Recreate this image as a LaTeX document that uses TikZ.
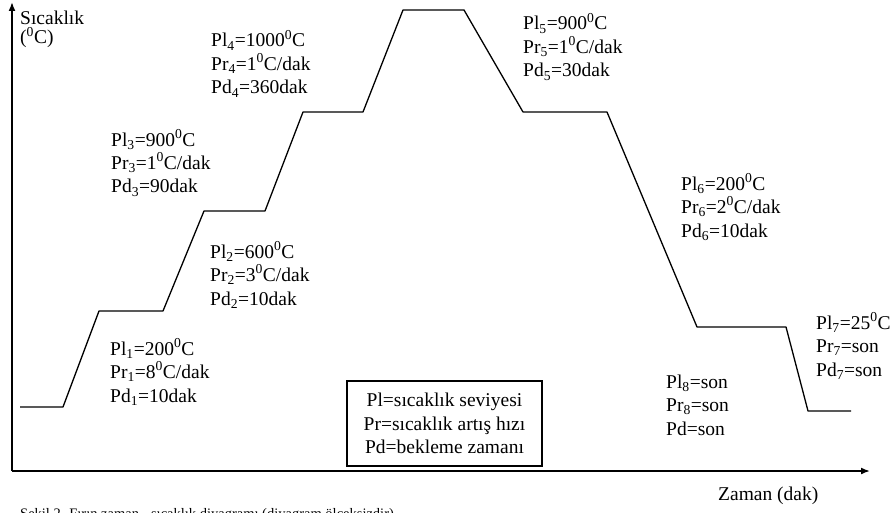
\documentclass[tikz,border=0pt]{standalone}
\usepackage{fontspec}
\setmainfont{Liberation Serif}
\usetikzlibrary{arrows.meta}
\begin{document}
\begin{tikzpicture}[x=1pt,y=-1pt,
  lbl/.style={anchor=base west,inner sep=0pt,align=left,font=\fontsize{19.5}{23.5}\selectfont},
  curveline/.style={line width=1.3pt,line join=round},
  axisline/.style={line width=1.7pt,-{Latex[length=9pt,width=7pt]}},
  legend/.style={draw,line width=1.3pt,minimum width=195pt,minimum height=85pt,align=center,inner sep=0pt,font=\fontsize{19.5}{23.5}\selectfont}]
\useasboundingbox (0,0) rectangle (893,513);
% axes
\coordinate (O) at (12,471);
\coordinate (ytop) at (12,2);
\coordinate (xend) at (870,471);
\draw[axisline] (O) -- (ytop);
\draw[axisline] (O) -- (xend);
% curve
\coordinate (c0) at (20,407);
\coordinate (c1) at (63,407);
\coordinate (c2) at (99,311);
\coordinate (c3) at (163,311);
\coordinate (c4) at (204,211);
\coordinate (c5) at (265,211);
\coordinate (c6) at (303,112);
\coordinate (c7) at (363,112);
\coordinate (c8) at (403,10);
\coordinate (c9) at (464,10);
\coordinate (c10) at (523,112);
\coordinate (c11) at (607,112);
\coordinate (c12) at (697,327);
\coordinate (c13) at (786,327);
\coordinate (c14) at (808,411);
\coordinate (c15) at (851,411);
\draw[curveline] (c0) -- (c1) -- (c2) -- (c3) -- (c4) -- (c5) -- (c6) -- (c7) -- (c8) -- (c9) -- (c10) -- (c11) -- (c12) -- (c13) -- (c14) -- (c15);
% axis labels
\node[lbl,font=\fontsize{19.5}{19.5}\selectfont] (ylab) at (20,44) {Sıcaklık\\(\textsuperscript{0}C)};
\node[lbl] (xlab) at (718,500) {Zaman (dak)};
% level labels (anchored at the baseline of their last line)
\node[lbl] (t1) at (110,402) {Pl\textsubscript{1}=200\textsuperscript{0}C\\Pr\textsubscript{1}=8\textsuperscript{0}C/dak\\Pd\textsubscript{1}=10dak};
\node[lbl] (t2) at (210,305) {Pl\textsubscript{2}=600\textsuperscript{0}C\\Pr\textsubscript{2}=3\textsuperscript{0}C/dak\\Pd\textsubscript{2}=10dak};
\node[lbl] (t3) at (111,193) {Pl\textsubscript{3}=900\textsuperscript{0}C\\Pr\textsubscript{3}=1\textsuperscript{0}C/dak\\Pd\textsubscript{3}=90dak};
\node[lbl] (t4) at (211,94) {Pl\textsubscript{4}=1000\textsuperscript{0}C\\Pr\textsubscript{4}=1\textsuperscript{0}C/dak\\Pd\textsubscript{4}=360dak};
\node[lbl] (t5) at (523,77) {Pl\textsubscript{5}=900\textsuperscript{0}C\\Pr\textsubscript{5}=1\textsuperscript{0}C/dak\\Pd\textsubscript{5}=30dak};
\node[lbl] (t6) at (681,237) {Pl\textsubscript{6}=200\textsuperscript{0}C\\Pr\textsubscript{6}=2\textsuperscript{0}C/dak\\Pd\textsubscript{6}=10dak};
\node[lbl] (t7) at (816,376) {Pl\textsubscript{7}=25\textsuperscript{0}C\\Pr\textsubscript{7}=son\\Pd\textsubscript{7}=son};
\node[lbl] (t8) at (666,435) {Pl\textsubscript{8}=son\\Pr\textsubscript{8}=son\\Pd=son};
% legend
\node[legend] (leg) at (444.5,423.5) {Pl=sıcaklık seviyesi\\Pr=sıcaklık artış hızı\\Pd=bekleme zamanı};
% caption (cut by the page edge)
\node[anchor=base west,inner sep=0pt,font=\fontsize{14.5}{18}\selectfont] (cap) at (20,518) {Şekil 2. Fırın zaman - sıcaklık diyagramı (diyagram ölçeksizdir)};
\end{tikzpicture}
\end{document}
